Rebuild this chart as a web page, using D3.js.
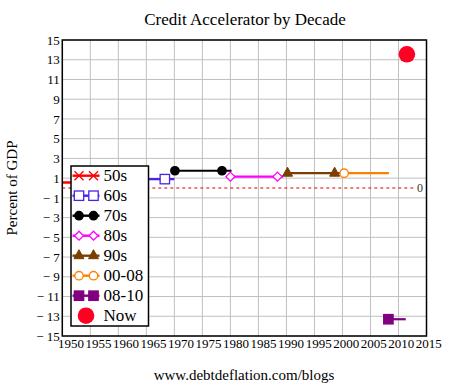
<!DOCTYPE html>
<html><head><meta charset="utf-8">
<script src="https://cdn.jsdelivr.net/npm/d3@7"></script>
<style>
html,body{margin:0;padding:0;background:#fff;}
svg text{font-family:"Liberation Serif","Times New Roman","DejaVu Serif",serif;}
</style></head>
<body>
<svg id="chart" width="453" height="383"></svg>
<script>
// ---- data ----
const seriesNames = ["50s","60s","70s","80s","90s","00-08","08-10"];
const seriesStart = [1950, 1960, 1970.1, 1980, 1990.2, 2000.3, 2008.2];
const seriesEnd   = [1960, 1970, 1980.2, 1989.4, 1999.6, 2008.3, 2011.3];
const seriesValue = [0.55, 0.9, 1.75, 1.15, 1.5, 1.5, -13.3];
const markerYears = [[1953, 1958.4],[1960, 1968.3],[1970.1, 1978.5],[1980, 1988.4],[1990.2, 1998.6],[2000.3],[2008.2]];
const seriesColors = ["#ff0000","#4a22e6","#000000","#ff00ff","#7a3f00","#ff8000","#800080"];
const seriesMarkers = ["cross","squareOpen","circleFilled","diamondOpen","triangle","circleOpen","squareFilled"];
const nowLabel = "Now";
const nowYear = 2011.5;
const nowValue = 13.55;
const xTicks = [1950,1955,1960,1965,1970,1975,1980,1985,1990,1995,2000,2005,2010,2015];
const yTicks = [15,13,11,9,7,5,3,1,-1,-3,-5,-7,-9,-11,-13,-15];
const titleText = "Credit Accelerator by Decade";
const yAxisTitle = "Percent of GDP";
const footerText = "www.debtdeflation.com/blogs";

const FONT = "'Liberation Serif','Times New Roman','DejaVu Serif',serif";

// ---- layout ----
const L = 62.3, R = 426.5, T = 40, B = 336;
const svg = d3.select("#chart");
const x = d3.scaleLinear().domain([1950, 2015]).range([L, R]);
const xLabel = d3.scaleLinear().domain([1950, 2015]).range([71, 428.7]);
const y = d3.scaleLinear().domain([-15, 15]).range([B, T]);

// grid
const grid = svg.append("g");
grid.selectAll("line.vx").data(xTicks).join("line")
  .attr("x1", d => x(d)).attr("x2", d => x(d)).attr("y1", T).attr("y2", B)
  .attr("stroke", "#c0c0c0").attr("stroke-width", 1);
grid.selectAll("line.hy").data(yTicks).join("line")
  .attr("x1", L).attr("x2", R).attr("y1", d => y(d)).attr("y2", d => y(d))
  .attr("stroke", "#c0c0c0").attr("stroke-width", 1);

// zero dashed line
svg.append("line").attr("x1", L).attr("x2", 415).attr("y1", y(0)).attr("y2", y(0))
  .attr("stroke", "#e00000").attr("stroke-width", 1.2).attr("stroke-dasharray", "3,3");
svg.append("text").attr("x", 420).attr("y", y(0) + 4).attr("text-anchor", "middle")
  .attr("font-family", FONT).attr("font-size", 12).attr("fill", "#333").text("0");

// marker drawing
function drawMarker(g, type, cx, cy, color, s) {
  s = s || 1;
  if (type === "cross") {
    const r = 4.5 * s;
    g.append("path").attr("d", `M${cx-r},${cy-r}L${cx+r},${cy+r}M${cx-r},${cy+r}L${cx+r},${cy-r}`)
      .attr("stroke", color).attr("stroke-width", 1.3).attr("fill", "none");
  } else if (type === "squareOpen" || type === "squareFilled") {
    const r = 4.7 * s;
    g.append("rect").attr("x", cx - r).attr("y", cy - r).attr("width", 2*r).attr("height", 2*r)
      .attr("fill", type === "squareFilled" ? color : "#fff").attr("stroke", color).attr("stroke-width", 1.3);
  } else if (type === "circleFilled" || type === "circleOpen") {
    const r = 4.2 * s;
    g.append("circle").attr("cx", cx).attr("cy", cy).attr("r", r)
      .attr("fill", type === "circleFilled" ? color : "#fff").attr("stroke", color).attr("stroke-width", 1.3);
  } else if (type === "diamondOpen") {
    const r = 4.5 * s;
    g.append("path").attr("d", `M${cx},${cy-r}L${cx+r},${cy}L${cx},${cy+r}L${cx-r},${cy}Z`)
      .attr("fill", "#fff").attr("stroke", color).attr("stroke-width", 1.3);
  } else if (type === "triangle") {
    const r = 5 * s;
    g.append("path").attr("d", `M${cx},${cy-r*1.2}L${cx+r},${cy+r*0.6}L${cx-r},${cy+r*0.6}Z`)
      .attr("fill", color).attr("stroke", color).attr("stroke-width", 1);
  }
}

// series
const dataG = svg.append("g");
seriesNames.forEach((name, i) => {
  const line = d3.line().x(d => x(d[0])).y(d => y(d[1]));
  dataG.append("path").datum([[seriesStart[i], seriesValue[i]], [seriesEnd[i], seriesValue[i]]])
    .attr("d", line).attr("stroke", seriesColors[i]).attr("stroke-width", i === 0 ? 2.6 : 2.2).attr("fill", "none");
  markerYears[i].forEach(yr => drawMarker(dataG, seriesMarkers[i], x(yr), y(seriesValue[i]), seriesColors[i]));
});
dataG.append("circle").attr("cx", x(nowYear)).attr("cy", y(nowValue)).attr("r", 8.3).attr("fill", "#ff0022");

// frame
svg.append("rect").attr("x", L).attr("y", T).attr("width", R - L).attr("height", B - T)
  .attr("fill", "none").attr("stroke", "#000").attr("stroke-width", 1.5);

// y tick labels
const yAxis = d3.axisLeft(y).tickValues(yTicks).tickSize(0).tickPadding(0)
  .tickFormat(d => d < 0 ? "\u2212 " + Math.abs(d) : String(d));
const yg = svg.append("g").attr("transform", `translate(${L - 2.5},0)`).call(yAxis)
  .attr("font-family", FONT).attr("font-size", 13);
yg.select(".domain").remove();
yg.selectAll("text").attr("font-family", FONT).attr("font-size", 13).attr("fill", "#000");

// x tick labels
svg.append("g").selectAll("text").data(xTicks).join("text")
  .attr("x", d => xLabel(d)).attr("y", 348).attr("text-anchor", "middle")
  .attr("font-family", FONT).attr("font-size", 13).attr("fill", "#000").text(d => d);

// titles
svg.append("text").attr("x", 245).attr("y", 25).attr("text-anchor", "middle")
  .attr("font-family", FONT).attr("font-size", 17).attr("fill", "#000").text(titleText);
svg.append("text").attr("transform", "translate(17,188) rotate(-90)").attr("text-anchor", "middle")
  .attr("font-family", FONT).attr("font-size", 15).attr("fill", "#000").text(yAxisTitle);
svg.append("text").attr("x", 244).attr("y", 380).attr("text-anchor", "middle")
  .attr("font-family", FONT).attr("font-size", 15).attr("fill", "#000").text(footerText);

// legend
const lg = svg.append("g");
lg.append("rect").attr("x", 71).attr("y", 166).attr("width", 77.5).attr("height", 160)
  .attr("fill", "#fff").attr("stroke", "#000").attr("stroke-width", 1.5);
const legY = i => 175.7 + i * 20;
seriesNames.forEach((name, i) => {
  const cy = legY(i);
  lg.append("line").attr("x1", 72.5).attr("x2", 99.5).attr("y1", cy).attr("y2", cy)
    .attr("stroke", seriesColors[i]).attr("stroke-width", 2.4);
  drawMarker(lg, seriesMarkers[i], 79, cy, seriesColors[i]);
  drawMarker(lg, seriesMarkers[i], 93.5, cy, seriesColors[i]);
  lg.append("text").attr("x", 103.5).attr("y", cy + 5.5).attr("font-family", FONT)
    .attr("font-size", 17).attr("fill", "#000").text(name);
});
lg.append("circle").attr("cx", 86).attr("cy", legY(7)).attr("r", 8.3).attr("fill", "#ff0022");
lg.append("text").attr("x", 103.5).attr("y", legY(7) + 5.5).attr("font-family", FONT)
  .attr("font-size", 17).attr("fill", "#000").text(nowLabel);
</script>
</body></html>
